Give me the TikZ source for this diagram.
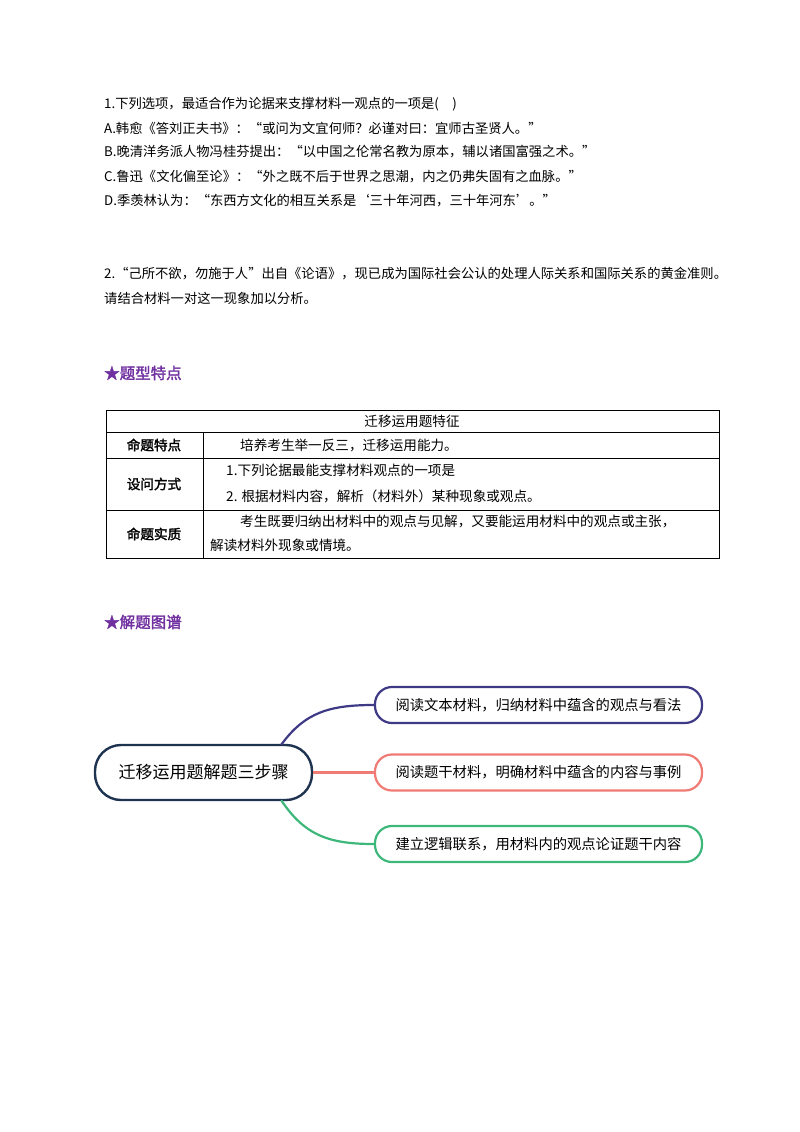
\documentclass[tikz,border=0pt]{standalone}
\usepackage{fontspec}
\setmainfont{Noto Sans CJK SC}
\newfontfamily\cjkb[FakeBold=2]{Noto Sans CJK SC}
\begin{document}
\begin{tikzpicture}[x=1pt,y=-1pt,
  txt/.style={anchor=west,inner sep=0pt,font=\fontsize{13.3}{15}\selectfont},
  tt/.style={inner sep=0pt,font=\fontsize{13.6}{15}\selectfont},
  head/.style={anchor=west,inner sep=0pt,text=hcol,font=\fontsize{15.5}{17}\selectfont\cjkb},
  mbox/.style={draw,line width=2.2pt,rounded corners=17pt,minimum width=327pt,minimum height=36pt,font=\fontsize{14.3}{16}\selectfont},
  link/.style={line width=2.2pt}]
\useasboundingbox (0,0) rectangle (800,1132);
\definecolor{hcol}{HTML}{7030A0}
\definecolor{c1}{HTML}{3E3A86}\definecolor{c2}{HTML}{F07A74}\definecolor{c3}{HTML}{3DB87A}\definecolor{c0}{HTML}{1E3350}
\node[txt] (l1) at (104,104) {1.下列选项，最适合作为论据来支撑材料一观点的一项是(\quad)};
\node[txt] (l2) at (104,128) {A.韩愈《答刘正夫书》：“或问为文宜何师？必谨对曰：宜师古圣贤人。”};
\node[txt] (l3) at (104,152) {B.晚清洋务派人物冯桂芬提出：“以中国之伦常名教为原本，辅以诸国富强之术。”};
\node[txt] (l4) at (104,177) {C.鲁迅《文化偏至论》：“外之既不后于世界之思潮，内之仍弗失固有之血脉。”};
\node[txt] (l5) at (104,201) {D.季羡林认为：“东西方文化的相互关系是‘三十年河西，三十年河东’。”};
\node[txt] (q1) at (104,274) {2.“己所不欲，勿施于人”出自《论语》，现已成为国际社会公认的处理人际关系和国际关系的黄金准则。};
\node[txt] (q2) at (104,298) {请结合材料一对这一现象加以分析。};
\node[head] (h1) at (104,373) {★题型特点};
\node[head] (h2) at (104,622) {★解题图谱};
% table
\draw[line width=0.8pt] (106,410) rectangle (719,558);
\draw (106,432) -- (719,432) (106,458) -- (719,458) (106,510) -- (719,510) (203,432) -- (203,558);
\node[tt] (th) at (412,421) {迁移运用题特征};
\node[tt,font=\fontsize{13.6}{15}\selectfont\cjkb] (r1) at (154,445) {命题特点};
\node[tt,font=\fontsize{13.6}{15}\selectfont\cjkb] (r2) at (154,484) {设问方式};
\node[tt,font=\fontsize{13.6}{15}\selectfont\cjkb] (r3) at (154,534) {命题实质};
\node[tt,anchor=west] (c1t) at (240,445) {培养考生举一反三，迁移运用能力。};
\node[tt,anchor=west] (c2a) at (226,470) {1.下列论据最能支撑材料观点的一项是};
\node[tt,anchor=west] (c2b) at (226,496) {2. 根据材料内容，解析（材料外）某种现象或观点。};
\node[tt,anchor=west] (c3a) at (240,521) {考生既要归纳出材料中的观点与见解，又要能运用材料中的观点或主张，};
\node[tt,anchor=west] (c3b) at (210,545) {解读材料外现象或情境。};
% mind map
\node[draw=c0,line width=2.4pt,rounded corners=26pt,minimum width=217pt,minimum height=55pt,font=\fontsize{17}{19}\selectfont] (root) at (203.5,772.5) {迁移运用题解题三步骤};
\node[mbox,draw=c1] (b1) at (538.5,705) {阅读文本材料，归纳材料中蕴含的观点与看法};
\node[mbox,draw=c2] (b2) at (538.5,772.5) {阅读题干材料，明确材料中蕴含的内容与事例};
\node[mbox,draw=c3] (b3) at (538.5,844) {建立逻辑联系，用材料内的观点论证题干内容};
\coordinate (t1) at ([xshift=-32pt,yshift=-1pt]root.north east);
\coordinate (t3) at ([xshift=-32pt,yshift=1pt]root.south east);
\draw[link,c1] (t1) .. controls (305,712) and (330,705) .. (b1.west);
\draw[link,c2] (root.east) -- (b2.west);
\draw[link,c3] (t3) .. controls (305,836) and (330,844) .. (b3.west);
\end{tikzpicture}
\end{document}
